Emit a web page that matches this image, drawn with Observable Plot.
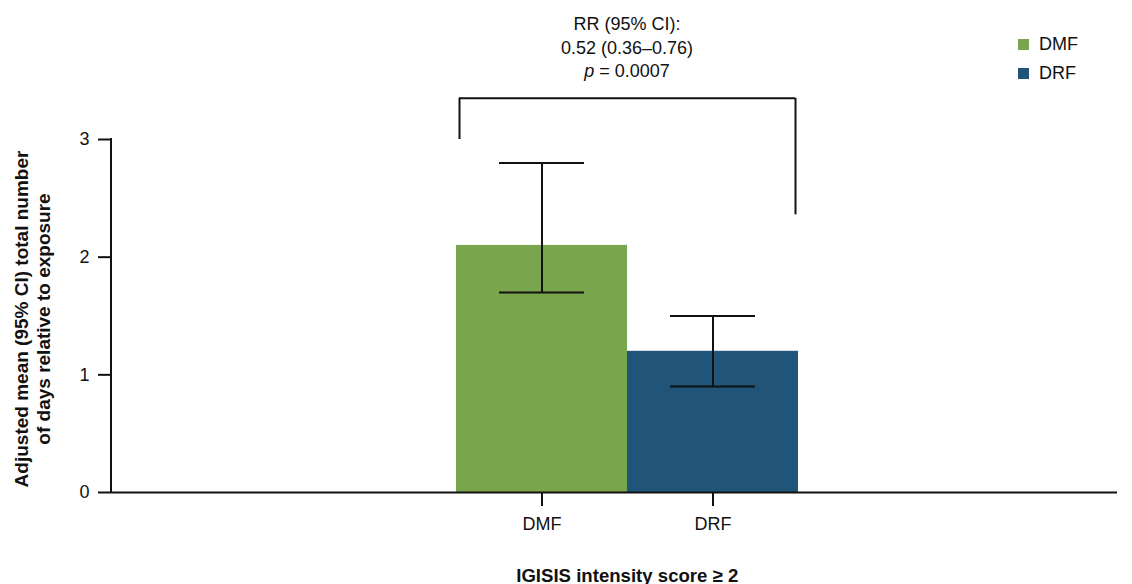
<!DOCTYPE html>
<html><head><meta charset="utf-8">
<script src="https://cdn.jsdelivr.net/npm/d3@7"></script>
<script src="https://cdn.jsdelivr.net/npm/@observablehq/plot@0.6"></script>
<style>
body{margin:0;background:#fff;font-family:"Liberation Sans",Arial,sans-serif;color:#111}
#wrap{position:relative;width:1132px;height:584px;overflow:hidden}
.ann{position:absolute;transform:translateX(-50%);text-align:center;font-size:18px;line-height:23.5px;white-space:nowrap}
.legend{position:absolute;font-size:18px;line-height:29px}
.legend .row{display:flex;align-items:center;height:29px}
.legend .sw{width:11px;height:11px;margin-right:10px}
</style></head><body><div id="wrap"></div>
<script>
// ---- data ----
const categories = ["DMF", "DRF"];
const means = [2.1, 1.2];
const ciLow = [1.7, 0.9];
const ciHigh = [2.8, 1.5];
const colors = ["#79a54c", "#215479"];
const yTicks = [0, 1, 2, 3];
const yTitle = "Adjusted mean (95% CI) total number\nof days relative to exposure";
const xTitle = "IGISIS intensity score \u2265 2";
const annotationLines = ["RR (95% CI):", "0.52 (0.36\u20130.76)", "= 0.0007"];
const annotationItalic = "p";
const bracketTop = 3.35, bracketLeftEnd = 3.0, bracketRightEnd = 2.36;

const table = categories.map((c, i) => ({cat: c, mean: means[i], low: ciLow[i], high: ciHigh[i]}));
const bracketRow = [{a: categories[0], b: categories[1], top: bracketTop, lEnd: bracketLeftEnd, rEnd: bracketRightEnd}];

const W = 1132, H = 584;
const ink = "#111";
const chart = Plot.plot({
  width: W, height: H,
  marginLeft: 111, marginRight: 15, marginTop: 139, marginBottom: 92,
  style: {fontFamily: '"Liberation Sans", Arial, sans-serif', fontSize: "18px", color: ink, background: "#fff"},
  x: {domain: categories, range: [455, 798], padding: 0, axis: null},
  y: {domain: [0, 3], axis: null},
  color: {domain: categories, range: colors},
  marks: [
    Plot.barY(table, {x: "cat", y: "mean", fill: "cat"}),
    Plot.ruleX(table, {x: "cat", y1: "low", y2: "high", stroke: ink, strokeWidth: 2}),
    Plot.tickY(table, {x: "cat", y: "low", stroke: ink, strokeWidth: 2, insetLeft: 43, insetRight: 43}),
    Plot.tickY(table, {x: "cat", y: "high", stroke: ink, strokeWidth: 2, insetLeft: 43, insetRight: 43}),
    // bracket
    Plot.ruleY(bracketRow, {x1: "a", x2: "b", y: "top", insetLeft: 3, insetRight: 3, stroke: ink, strokeWidth: 2}),
    Plot.ruleX(bracketRow, {x: "a", y1: "lEnd", y2: "top", dx: -82.5, stroke: ink, strokeWidth: 2}),
    Plot.ruleX(bracketRow, {x: "b", y1: "rEnd", y2: "top", dx: 82.5, stroke: ink, strokeWidth: 2}),
    // axes
    Plot.ruleY([0], {stroke: ink, strokeWidth: 2}),
    (index, scales, values, dims) => {
      const l = d3.create("svg:line")
        .attr("x1", dims.marginLeft).attr("x2", dims.marginLeft)
        .attr("y1", scales.y(3) - 1).attr("y2", scales.y(0))
        .attr("stroke", ink).attr("stroke-width", 2);
      return l.node();
    },
    Plot.axisY({ticks: yTicks, tickSize: 13, tickPadding: 9, label: null, strokeWidth: 2, stroke: ink, fontSize: 18, tickFormat: d => String(d)}),
    Plot.axisX({tickSize: 14, tickPadding: 11, label: null, strokeWidth: 2, stroke: ink, fontSize: 18}),
    Plot.text([yTitle], {text: d => d, frameAnchor: "left", rotate: -90, dx: -80, dy: 3, textAnchor: "middle", lineAnchor: "middle", lineHeight: 1.17, fontWeight: "bold", fontSize: 19, fill: ink}),
    Plot.text([xTitle], {text: d => d, x: () => categories[1], frameAnchor: "bottom", dx: -85.75, dy: 89, textAnchor: "middle", lineAnchor: "bottom", fontWeight: "bold", fontSize: 18.6, fill: ink})
  ]
});
const wrap = document.getElementById("wrap");
wrap.appendChild(chart);

// annotation centred on the boundary between the two bars
const xs = chart.scale("x");
const boundary = xs.apply(categories[1]);
const ann = document.createElement("div");
ann.className = "ann";
ann.style.left = boundary + "px";
ann.style.top = "13px";
ann.innerHTML = `<div>${annotationLines[0]}</div><div>${annotationLines[1]}</div><div><i>${annotationItalic}</i> ${annotationLines[2]}</div>`;
wrap.appendChild(ann);

// legend
const lg = document.createElement("div");
lg.className = "legend";
lg.style.left = "1018px";
lg.style.top = "30px";
lg.innerHTML = categories.map((c, i) => `<div class="row"><div class="sw" style="background:${colors[i]}"></div><span>${c}</span></div>`).join("");
wrap.appendChild(lg);
</script>
</body></html>
